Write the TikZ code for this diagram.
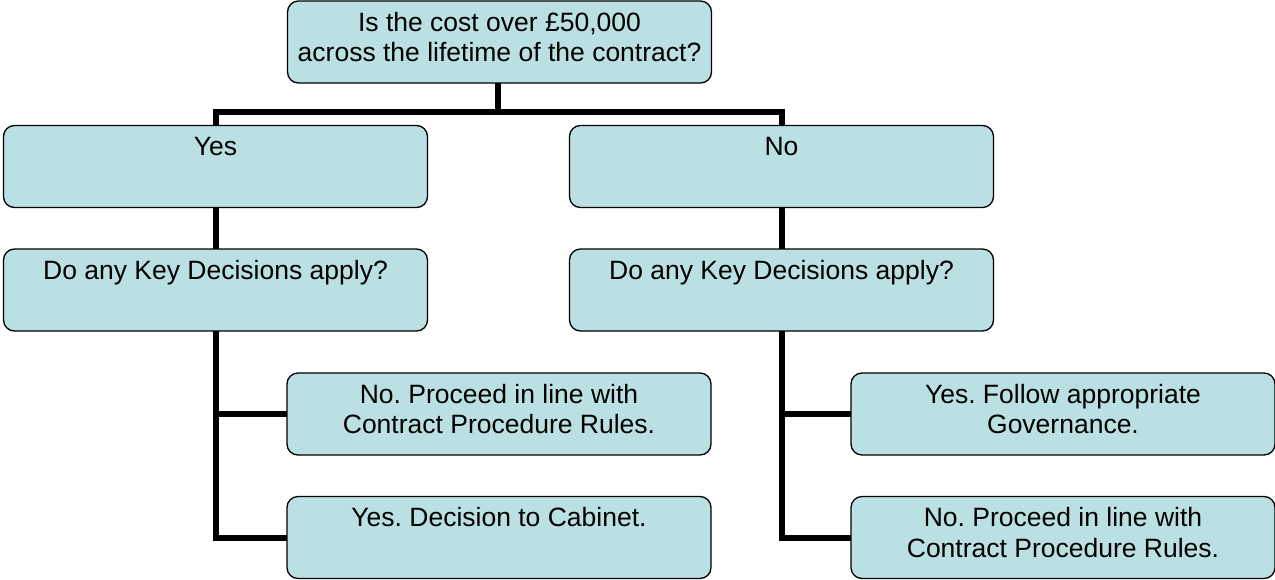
\documentclass[tikz,border=0pt]{standalone}
\usepackage{fontspec}
\setmainfont{Liberation Sans}
\frenchspacing
\definecolor{boxfill}{RGB}{187,224,227}
\newcommand{\bxt}[1]{\parbox[c][82pt][t]{424pt}{\centering\fontsize{26.5pt}{30.5pt}\selectfont\rule{0pt}{30pt}#1\par}}
\tikzset{
  fbox/.style={draw=black, fill=boxfill, line width=1.3pt, rounded corners=11pt, inner sep=0pt, outer sep=0pt},
  link/.style={draw=black, line width=6pt}
}
\begin{document}
\begin{tikzpicture}[x=1pt,y=-1pt]
\useasboundingbox (0,0) rectangle (1275,579);
\node[fbox] (top) at (499.5,42) {\bxt{Is the cost over £50,000\\across the lifetime of the contract?}};
\node[fbox] (yes) at (215.5,166.5) {\bxt{Yes}};
\node[fbox] (no) at (781.5,166.5) {\bxt{No}};
\node[fbox] (kdl) at (215.5,290) {\bxt{Do any Key Decisions apply?}};
\node[fbox] (kdr) at (781.5,290) {\bxt{Do any Key Decisions apply?}};
\node[fbox] (l1) at (499,414) {\bxt{No. Proceed in line with\\Contract Procedure Rules.}};
\node[fbox] (l2) at (499,537.5) {\bxt{Yes. Decision to Cabinet.}};
\node[fbox] (r1) at (1063,414) {\bxt{Yes. Follow appropriate\\Governance.}};
\node[fbox] (r2) at (1063,537.5) {\bxt{No. Proceed in line with\\Contract Procedure Rules.}};
\coordinate (j) at (498,112);
\draw[link] (top.south -| j) -- (j);
\draw[link] (yes.north) |- (j) -| (no.north);
\draw[link] (yes.south) -- (kdl.north);
\draw[link] (no.south) -- (kdr.north);
\draw[link] (kdl.south) |- (l1.west);
\draw[link] (kdl.south) |- (l2.west);
\draw[link] (kdr.south) |- (r1.west);
\draw[link] (kdr.south) |- (r2.west);
\end{tikzpicture}
\end{document}
